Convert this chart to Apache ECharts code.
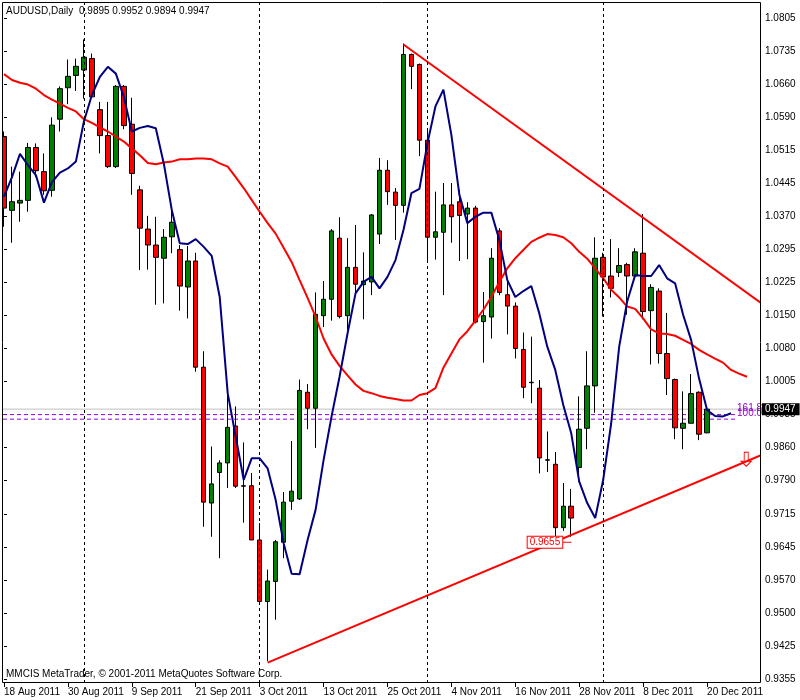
<!DOCTYPE html>
<html>
<head>
<meta charset="utf-8">
<script src="https://cdn.jsdelivr.net/npm/echarts@6/dist/echarts.min.js"></script>
<style>html,body{margin:0;padding:0;background:#fff}#c{width:800px;height:700px}</style>
</head>
<body>
<div id="c"></div>
<script>
// ---------- DATA ----------
const dates = [
"18 Aug 2011","19 Aug 2011","22 Aug 2011","23 Aug 2011","24 Aug 2011","25 Aug 2011","26 Aug 2011","29 Aug 2011","30 Aug 2011","31 Aug 2011",
"1 Sep 2011","2 Sep 2011","5 Sep 2011","6 Sep 2011","7 Sep 2011","8 Sep 2011","9 Sep 2011","12 Sep 2011","13 Sep 2011","14 Sep 2011",
"15 Sep 2011","16 Sep 2011","19 Sep 2011","20 Sep 2011","21 Sep 2011","22 Sep 2011","23 Sep 2011","26 Sep 2011","27 Sep 2011","28 Sep 2011",
"29 Sep 2011","30 Sep 2011","3 Oct 2011","4 Oct 2011","5 Oct 2011","6 Oct 2011","7 Oct 2011","10 Oct 2011","11 Oct 2011","12 Oct 2011",
"13 Oct 2011","14 Oct 2011","17 Oct 2011","18 Oct 2011","19 Oct 2011","20 Oct 2011","21 Oct 2011","24 Oct 2011","25 Oct 2011","26 Oct 2011",
"27 Oct 2011","28 Oct 2011","31 Oct 2011","1 Nov 2011","2 Nov 2011","3 Nov 2011","4 Nov 2011","7 Nov 2011","8 Nov 2011","9 Nov 2011",
"10 Nov 2011","11 Nov 2011","14 Nov 2011","15 Nov 2011","16 Nov 2011","17 Nov 2011","18 Nov 2011","21 Nov 2011","22 Nov 2011","23 Nov 2011",
"24 Nov 2011","25 Nov 2011","28 Nov 2011","29 Nov 2011","30 Nov 2011","1 Dec 2011","2 Dec 2011","5 Dec 2011","6 Dec 2011","7 Dec 2011",
"8 Dec 2011","9 Dec 2011","12 Dec 2011","13 Dec 2011","14 Dec 2011","15 Dec 2011","16 Dec 2011","19 Dec 2011","20 Dec 2011"
];
const futureSlots = ["","","","","",""];

const opens = [
1.0545,1.0383,1.0399,1.0405,1.0521,1.0468,1.0427,1.0583,1.0652,1.0679,
1.0691,1.0716,1.0604,1.0547,1.0479,1.0655,1.0572,1.0428,1.0342,1.0307,
1.0278,1.0325,1.0297,1.0215,1.0272,1.0039,0.9741,0.9808,0.9829,0.9910,
0.9779,0.9779,0.9660,0.9525,0.9569,0.9655,0.9745,0.9750,0.9984,0.9949,
1.0152,1.0188,1.0322,1.0152,1.0258,1.0220,1.0226,1.0331,1.0471,1.0423,
1.0394,1.0725,1.0703,1.0537,1.0324,1.0335,1.0395,1.0402,1.0375,1.0388,
1.0139,1.0149,1.0338,1.0198,1.0173,1.0078,1.0006,0.9993,0.9836,0.9826,
0.9687,0.9734,0.9819,0.9905,0.9998,1.0280,1.0239,1.0247,1.0264,1.0239,
1.0289,1.0163,1.0206,1.0069,1.0012,0.9905,0.9916,0.9984,0.9895];
const highs = [
1.0556,1.0479,1.0468,1.0531,1.0530,1.0508,1.0587,1.0655,1.0714,1.0716,
1.0758,1.0727,1.0621,1.0621,1.0658,1.0658,1.0630,1.0437,1.0371,1.0369,
1.0342,1.0394,1.0307,1.0305,1.0290,1.0074,0.9865,0.9835,0.9982,0.9953,
0.9874,0.9807,0.9697,0.9595,0.9660,0.9765,0.9877,1.0012,1.0002,1.0203,
1.0228,1.0342,1.0368,1.0322,1.0351,1.0291,1.0375,1.0498,1.0493,1.0432,
1.0749,1.0727,1.0705,1.0563,1.0424,1.0443,1.0443,1.0428,1.0401,1.0393,
1.0204,1.0300,1.0344,1.0234,1.0181,1.0115,1.0106,1.0011,0.9898,0.9853,
0.9785,0.9772,0.9975,1.0074,1.0324,1.0290,1.0320,1.0300,1.0268,1.0300,
1.0375,1.0221,1.0212,1.0158,1.0014,0.9986,1.0024,0.9986,0.9952];
const lows = [
1.0347,1.0312,1.0358,1.0380,1.0456,1.0417,1.0413,1.0556,1.0616,1.0645,
1.0628,1.0630,1.0508,1.0476,1.0476,1.0561,1.0417,1.0252,1.0253,1.0176,
1.0179,1.0289,1.0163,1.0146,1.0029,0.9689,0.9667,0.9620,0.9774,0.9774,
0.9698,0.9660,0.9525,0.9394,0.9485,0.9620,0.9726,0.9748,0.9903,0.9862,
1.0127,1.0141,1.0146,1.0121,1.0201,1.0144,1.0197,1.0309,1.0395,1.0318,
1.0378,1.0649,1.0502,1.0268,1.0275,1.0197,1.0312,1.0272,1.0276,1.0135,
1.0049,1.0102,1.0197,1.0111,1.0058,0.9971,0.9960,0.9806,0.9809,0.9664,
0.9680,0.9667,0.9788,0.9859,0.9939,1.0150,1.0192,1.0237,1.0154,1.0237,
1.0144,1.0045,1.0047,0.9978,0.9881,0.9859,0.9916,0.9879,0.9894];
const closes = [
1.0388,1.0402,1.0405,1.0521,1.0470,1.0426,1.0570,1.0650,1.0677,1.0699,
1.0719,1.0632,1.0547,1.0479,1.0655,1.0569,1.0464,1.0344,1.0307,1.0280,
1.0324,1.0357,1.0217,1.0272,1.0039,0.9743,0.9783,0.9829,0.9907,0.9778,
0.9778,0.9660,0.9525,0.9570,0.9656,0.9743,0.9767,0.9988,0.9949,1.0155,
1.0188,1.0338,1.0150,1.0258,1.0221,1.0228,1.0373,1.0471,1.0424,1.0394,
1.0725,1.0699,1.0537,1.0324,1.0336,1.0395,1.0369,1.0372,1.0388,1.0138,
1.0152,1.0278,1.0203,1.0173,1.0080,0.9995,1.0005,0.9840,0.9835,0.9687,
0.9734,0.9708,0.9903,0.9998,1.0278,1.0237,1.0212,1.0262,1.0239,1.0292,
1.0161,1.0214,1.0069,1.0014,0.9906,0.9916,0.9981,0.9892,0.9947];

// fast (blue) moving average, shifted forward 3 bars
const fastMA = [
1.0413,1.0456,1.0507,1.0482,1.0460,1.0400,1.0445,1.0466,1.0475,1.0490,
1.0578,1.0636,1.0676,1.0698,1.0683,1.0632,1.0556,1.0564,1.0568,1.0563,
1.0486,1.0384,1.0311,1.0309,1.0320,1.0303,1.0283,1.0193,0.9982,0.9887,
0.9792,0.9839,0.9839,0.9817,0.9748,0.9653,0.9586,0.9585,0.9660,0.9726,
0.9835,0.9931,1.0018,1.0113,1.0201,1.0226,1.0237,1.0212,1.0237,1.0274,
1.0340,1.0421,1.0430,1.0530,1.0611,1.0648,1.0548,1.0417,1.0355,1.0369,
1.0378,1.0378,1.0318,1.0230,1.0193,1.0206,1.0217,1.0157,1.0084,1.0033,
0.9956,0.9894,0.9788,0.9741,0.9708,0.9792,0.9916,1.0084,1.0183,1.0241,
1.0239,1.0239,1.0263,1.0234,1.0223,1.0154,1.0099,1.0014,0.9945,0.9932,
0.9931,0.9938];
// slow (red) moving average, shifted forward 5 bars
const slowMA = [
1.0682,1.0669,1.0663,1.0659,1.0650,1.0636,1.0626,1.0617,1.0608,1.0600,
1.0583,1.0575,1.0565,1.0556,1.0545,1.0534,1.0519,1.0504,1.0487,1.0484,
1.0488,1.0490,1.0495,1.0495,1.0497,1.0497,1.0495,1.0486,1.0479,1.0456,
1.0432,1.0406,1.0380,1.0355,1.0332,1.0301,1.0270,1.0230,1.0191,1.0150,
1.0102,1.0067,1.0042,1.0021,1.0001,0.9987,0.9982,0.9976,0.9972,0.9969,
0.9966,0.9966,0.9978,0.9982,0.9993,1.0038,1.0069,1.0100,1.0118,1.0141,
1.0165,1.0193,1.0226,1.0256,1.0278,1.0296,1.0314,1.0323,1.0331,1.0329,
1.0324,1.0311,1.0292,1.0277,1.0256,1.0234,1.0209,1.0192,1.0172,1.0167,
1.0146,1.0122,1.0113,1.0112,1.0108,1.0099,1.0090,1.0077,1.0067,1.0058,
1.0049,1.0033,1.0025,1.0018];

// trend lines: [bar index, price]
const upperTrend = [[50, 1.0747], [94.75, 1.0180]];
const lowerTrend = [[33, 0.9391], [94.75, 0.9846]];
// fibonacci levels
const fibLabels = ["161.8", "100.0"];
const fibValues = [0.9935, 0.9925];
const fibSpan = [-1, 91.5];
// bid line span
const bidSpan = [-1, 94.5];
// month separators
const monthStarts = ["1 Sep 2011", "3 Oct 2011", "1 Nov 2011", "1 Dec 2011"];
// price label on the trend
const priceLabelDate = "25 Nov 2011";
const priceLabelValue = 0.9655;
// arrow on the lower trend line
const arrowPoint = [92.9, 0.9837];

// y-axis tick labels (bottom to top)
const yTickLabels = ["0.9355","0.9425","0.9500","0.9570","0.9645","0.9715","0.9790","0.9860","0.9935","1.0005",
"1.0080","1.0150","1.0225","1.0295","1.0370","1.0445","1.0515","1.0590","1.0660","1.0735","1.0805"];
const yTickStart = 0.9355, yTickStep = 0.00725;
const Y_MIN = 0.934623, Y_MAX = 1.084010;

// ---------- BUILD ----------
const FONT = '"Liberation Sans", Arial, sans-serif';
const categories = dates.concat(futureSlots);
const candles = opens.map((o, i) => [o, closes[i], lows[i], highs[i]]);
const tickValues = yTickLabels.map((_, k) => yTickStart + k * yTickStep);
const last = opens.length - 1;
const lastClose = closes[last];
const headerVals = [opens[last], highs[last], lows[last], closes[last]].map(v => v.toFixed(4)).join(' ');

const chart = echarts.init(document.getElementById('c'), null, {renderer: 'canvas'});
const option = {
  animation: false,
  backgroundColor: '#ffffff',
  grid: {left: -1, right: 41, top: 2, bottom: 17, containLabel: false},
  xAxis: [{
    type: 'category', data: categories, boundaryGap: true,
    axisLine: {show: false},
    axisTick: {show: true, alignWithLabel: true, interval: 7, length: 4, lineStyle: {color: '#000'}},
    axisLabel: {interval: 7, align: 'left', margin: 4, color: '#000', fontFamily: FONT, fontSize: 10},
    splitLine: {show: false}
  }, {
    type: 'value', min: -0.5, max: categories.length - 0.5, show: false
  }],
  yAxis: {
    type: 'value', position: 'right', offset: 2, min: Y_MIN, max: Y_MAX,
    splitLine: {show: false},
    axisLine: {show: false},
    axisTick: {show: true, length: 3, customValues: tickValues, lineStyle: {color: '#000'}},
    axisLabel: {
      customValues: tickValues, margin: 4, color: '#000', fontFamily: FONT, fontSize: 10,
      formatter: v => yTickLabels[Math.round((v - yTickStart) / yTickStep)]
    }
  },
  series: [{
    type: 'line', xAxisIndex: 1, data: [[bidSpan[0], lastClose], [bidSpan[1], lastClose]],
    showSymbol: false, symbol: 'none', lineStyle: {color: '#C0C0C0', width: 1}, z: 1,
    endLabel: {show: true, formatter: lastClose.toFixed(4), distance: 3, color: '#fff', backgroundColor: '#000',
               padding: [1, 4, 0, 3], lineHeight: 11, fontFamily: FONT, fontSize: 10}
  }, {
    type: 'candlestick', data: candles, barWidth: 5, z: 2,
    itemStyle: {color: '#008000', color0: '#FF0000', borderColor: '#000', borderColor0: '#000', borderWidth: 1},
    markLine: {
      silent: true, symbol: ['none', 'none'], animation: false,
      data: monthStarts.map(d => ({xAxis: d, lineStyle: {color: '#000', width: 1, type: [3, 3]}, label: {show: false}}))
    },
    markPoint: {
      silent: true, animation: false,
      data: [{
        coord: [priceLabelDate, priceLabelValue], symbol: 'rect', symbolSize: [9, 1], symbolOffset: [-4.5, 0],
        itemStyle: {color: '#FF0000'},
        label: {show: true, position: 'left', distance: 0, formatter: priceLabelValue.toFixed(4),
                color: '#FF0000', backgroundColor: '#fff', borderColor: '#FF0000', borderWidth: 1,
                padding: [1, 2, 0, 2], fontFamily: FONT, fontSize: 10}
      }]
    }
  }, {
    type: 'line', data: slowMA, showSymbol: false, symbol: 'none', smooth: false,
    lineStyle: {color: '#FF0000', width: 2}, z: 3
  }, {
    type: 'line', data: fastMA, showSymbol: false, symbol: 'none', smooth: false,
    lineStyle: {color: '#000080', width: 2}, z: 3
  }].concat(fibValues.map((v, k) => ({
    type: 'line', xAxisIndex: 1, data: [[fibSpan[0], v], [fibSpan[1], v]], showSymbol: false, symbol: 'none',
    lineStyle: {color: '#9400D3', width: 1, type: [4, 3]}, z: 2,
    endLabel: {show: true, formatter: fibLabels[k], color: '#9400D3', fontFamily: FONT, fontSize: 10, distance: 2, offset: [0, -6]}
  }))).concat([{
    type: 'line', xAxisIndex: 1, data: upperTrend, showSymbol: false, symbol: 'none', clip: false,
    lineStyle: {color: '#FF0000', width: 2}, z: 4
  }, {
    type: 'line', xAxisIndex: 1, data: lowerTrend, showSymbol: false, symbol: 'none', clip: false,
    lineStyle: {color: '#FF0000', width: 2}, z: 4,
    markPoint: {
      silent: true, animation: false,
      data: [{
        coord: arrowPoint, symbol: 'path://M3,0 L7,0 L7,9 L10,9 L5,14 L0,9 L3,9 Z', symbolSize: [10, 14],
        itemStyle: {color: 'rgba(255,255,255,0)', borderColor: '#FF0000', borderWidth: 1},
        label: {show: false}
      }]
    }
  }]),
  graphic: [
    {type: 'rect', z: 100, shape: {x: 0, y: 0, width: 2, height: 683}, style: {fill: '#fff'}},
    {type: 'rect', z: 101, shape: {x: 2.5, y: 2.5, width: 758, height: 680}, style: {fill: 'none', stroke: '#000', lineWidth: 1}},
    {type: 'text', z: 102, x: 6, y: 11, style: {text: 'AUDUSD,Daily', font: '10px ' + FONT, fill: '#000', verticalAlign: 'middle'}},
    {type: 'text', z: 102, x: 79, y: 11, style: {text: headerVals, font: '10px ' + FONT, fill: '#000', verticalAlign: 'middle'}},
    {type: 'text', z: 102, x: 6, y: 674, style: {text: 'MMCIS MetaTrader, \u00A9 2001-2011 MetaQuotes Software Corp.', font: '10px ' + FONT, fill: '#000', verticalAlign: 'middle'}}
  ]
};
chart.setOption(option);
</script>
</body>
</html>
